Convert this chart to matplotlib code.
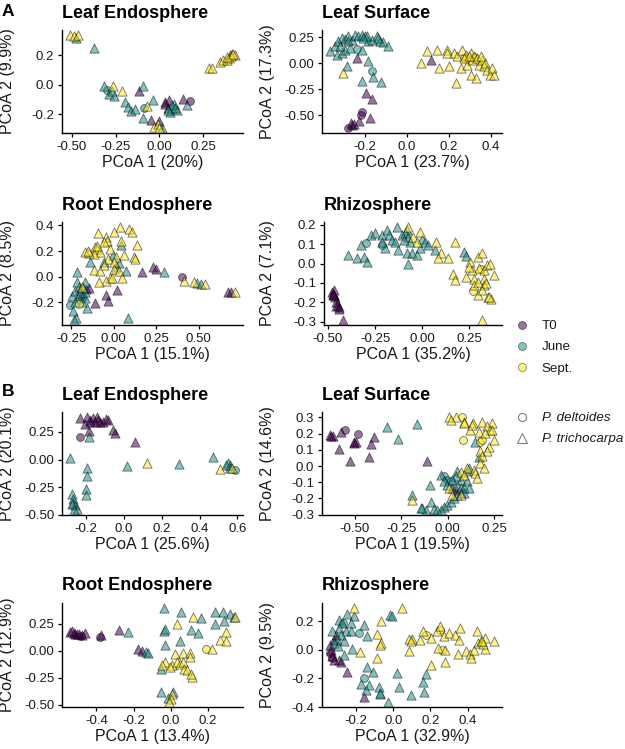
import matplotlib
matplotlib.use("Agg")
import matplotlib.pyplot as plt
from matplotlib.lines import Line2D
from matplotlib.transforms import blended_transform_factory

plt.rcParams['font.family'] = ['Liberation Sans', 'DejaVu Sans']

MONTHS = ["T0", "June", "Sept."]
MONTH_COLORS = ["#440154", "#21908C", "#FDE725"]
SPECIES = ["P. deltoides", "P. trichocarpa"]

# ---------------- Panel A: Leaf Endosphere ----------------
A_LE_T0_circ = [(0.175, -0.111)]
A_LE_T0_tri = [(-0.114, -0.043), (-0.049, -0.242), (0.0, -0.249), (0.032, -0.118), (0.055, -0.102),
               (0.048, -0.156), (0.133, -0.095), (0.030, -0.130)]
A_LE_June_circ = [(-0.297, -0.034), (-0.087, -0.156)]
A_LE_June_tri = [(-0.479, 0.314), (-0.376, 0.249), (-0.314, -0.011), (-0.287, -0.066), (-0.257, -0.075),
                 (-0.272, -0.043), (-0.091, -0.011), (-0.196, -0.118), (-0.177, -0.152), (-0.162, -0.181),
                 (-0.139, -0.163), (-0.038, -0.106), (-0.095, -0.224), (0.015, -0.296), (0.070, -0.156),
                 (0.084, -0.133), (0.103, -0.174), (0.061, -0.186), (0.160, -0.138), (0.075, -0.140),
                 (0.090, -0.160), (0.050, -0.170)]
A_LE_Sept_circ = []
A_LE_Sept_tri = [(-0.51, 0.339), (-0.487, 0.333), (-0.464, 0.337), (-0.266, -0.011), (-0.215, -0.043),
                 (-0.072, -0.143), (-0.030, -0.287), (-0.008, -0.269), (0.0, -0.292), (0.285, 0.113),
                 (0.304, 0.113), (0.346, 0.152), (0.365, 0.170), (0.388, 0.170), (0.403, 0.204),
                 (0.418, 0.210), (0.432, 0.199), (0.399, 0.183), (0.41, 0.195), (0.39, 0.19), (0.42, 0.205)]

# ---------------- Panel A: Leaf Surface ----------------
A_LS_T0_circ = [(-0.214, -0.466), (-0.220, -0.498), (-0.280, -0.627)]
A_LS_T0_tri = [(-0.241, 0.048), (0.113, 0.032), (-0.194, -0.289), (-0.170, -0.347), (-0.178, -0.531),
               (-0.230, -0.553), (-0.268, -0.579), (-0.265, -0.595), (-0.255, -0.590)]
A_LS_June_circ = [(-0.241, 0.135), (-0.170, -0.080)]
A_LS_June_tri = [(-0.367, 0.113), (-0.343, 0.161), (-0.328, 0.209), (-0.312, 0.241), (-0.296, 0.232),
                 (-0.280, 0.257), (-0.265, 0.225), (-0.249, 0.273), (-0.233, 0.257), (-0.217, 0.273),
                 (-0.202, 0.257), (-0.186, 0.209), (-0.170, 0.225), (-0.146, 0.257), (-0.131, 0.209),
                 (-0.115, 0.199), (-0.091, 0.161), (-0.335, 0.080), (-0.312, 0.096), (-0.296, 0.129),
                 (-0.272, 0.145), (-0.217, 0.129), (-0.280, 0.209), (-0.320, 0.161), (-0.186, 0.023),
                 (-0.288, -0.032), (-0.162, -0.129), (-0.214, -0.170), (-0.126, -0.186), (-0.19, 0.26),
                 (-0.21, 0.24), (-0.14, 0.24)]
A_LS_Sept_circ = [(0.27, 0.05), (0.30, 0.03), (0.32, 0.06)]
A_LS_Sept_tri = [(-0.304, -0.096), (0.066, 0.0), (0.094, 0.113), (0.142, 0.122), (0.153, -0.048),
                 (0.189, 0.122), (0.200, -0.032), (0.224, 0.096), (0.239, 0.064), (0.263, 0.129),
                 (0.255, -0.048), (0.279, 0.080), (0.287, -0.016), (0.302, 0.096), (0.310, 0.032),
                 (0.318, 0.064), (0.334, 0.048), (0.342, -0.016), (0.357, 0.032), (0.365, -0.032),
                 (0.373, 0.0), (0.381, -0.064), (0.394, -0.113), (0.405, -0.048), (0.413, -0.113),
                 (0.302, -0.113), (0.326, -0.145), (0.233, -0.193), (0.192, 0.096), (0.271, 0.048),
                 (0.294, 0.064), (0.350, 0.064)]

# ---------------- Panel A: Root Endosphere ----------------
A_RE_T0_circ = [(0.400, -0.005)]
A_RE_T0_tri = [(0.168, 0.038), (0.228, 0.077), (0.248, 0.059), (0.020, -0.103), (-0.044, -0.141),
               (-0.036, -0.192), (-0.109, -0.205), (-0.149, -0.090), (-0.162, -0.095), (0.673, -0.121),
               (0.693, -0.121)]
A_RE_June_circ = [(-0.257, -0.223), (-0.188, -0.167)]
A_RE_June_tri = [(0.044, 0.249), (-0.006, 0.167), (0.069, 0.044), (0.030, 0.103), (0.010, 0.077),
                 (-0.059, 0.115), (-0.139, 0.115), (-0.218, 0.038), (-0.218, -0.038), (-0.248, -0.154),
                 (-0.228, -0.115), (-0.208, -0.077), (-0.198, -0.103), (-0.188, -0.141), (-0.168, -0.167),
                 (-0.158, -0.244), (-0.238, -0.269), (-0.222, -0.321), (-0.234, -0.341), (0.083, -0.321),
                 (-0.168, -0.038), (-0.182, -0.090), (0.297, 0.038), (0.491, -0.051), (0.511, -0.059),
                 (-0.21, -0.17), (-0.19, -0.20), (-0.23, -0.20), (-0.20, -0.13), (-0.17, -0.12)]
A_RE_Sept_circ = [(-0.204, -0.213)]
A_RE_Sept_tri = [(0.036, 0.390), (0.089, 0.372), (0.109, 0.346), (-0.095, 0.341), (0.0, 0.346),
                 (-0.044, 0.308), (-0.040, 0.282), (0.040, 0.282), (0.135, 0.249), (-0.109, 0.231),
                 (-0.099, 0.218), (-0.079, 0.192), (-0.119, 0.179), (-0.149, 0.187), (-0.168, 0.192),
                 (-0.020, 0.218), (0.010, 0.154), (0.059, 0.167), (0.119, 0.154), (0.125, 0.136),
                 (-0.036, 0.136), (0.0, 0.115), (-0.059, 0.090), (-0.119, 0.051), (-0.079, 0.044),
                 (0.0, 0.059), (0.030, 0.044), (-0.020, -0.013), (-0.044, -0.033), (-0.089, -0.038),
                 (-0.010, -0.008), (0.050, -0.013), (-0.188, -0.077), (0.416, -0.031), (0.471, -0.044),
                 (0.539, -0.059), (-0.154, 0.197), (-0.099, 0.238), (-0.055, 0.269), (0.713, -0.121)]

# ---------------- Panel A: Rhizosphere ----------------
A_RH_T0_circ = []
A_RH_T0_tri = [(-0.478, -0.147), (-0.466, -0.138), (-0.471, -0.164), (-0.461, -0.172), (-0.457, -0.198),
               (-0.449, -0.212), (-0.440, -0.233), (-0.457, -0.219), (-0.443, -0.224), (-0.422, -0.293),
               (-0.466, -0.160), (-0.475, -0.155)]
A_RH_June_circ = [(-0.300, 0.107), (-0.216, 0.098)]
A_RH_June_tri = [(-0.396, 0.043), (-0.344, 0.029), (-0.309, 0.034), (-0.291, 0.009), (-0.326, 0.095),
                 (-0.274, 0.147), (-0.248, 0.155), (-0.213, 0.147), (-0.187, 0.172), (-0.178, 0.147),
                 (-0.195, 0.078), (-0.161, 0.121), (-0.134, 0.190), (-0.143, 0.112), (-0.126, 0.069),
                 (-0.108, 0.147), (-0.082, 0.172), (-0.091, 0.155), (-0.073, 0.138), (-0.065, 0.112),
                 (-0.082, 0.052), (-0.056, 0.052), (-0.030, 0.043), (-0.012, 0.078), (-0.003, 0.129),
                 (0.017, 0.112), (0.031, 0.095), (0.066, 0.069), (-0.077, 0.0), (0.223, 0.060),
                 (0.232, 0.040), (-0.099, 0.121), (-0.213, 0.112)]
A_RH_Sept_circ = [(0.267, -0.143), (0.311, -0.026)]
A_RH_Sept_tri = [(-0.077, 0.190), (-0.012, 0.164), (-0.047, 0.138), (-0.030, 0.112), (0.075, 0.112),
                 (0.098, 0.052), (0.084, 0.026), (0.136, 0.026), (0.162, -0.052), (0.175, -0.083),
                 (0.175, 0.109), (0.255, 0.009), (0.262, -0.034), (0.232, -0.069), (0.276, -0.078),
                 (0.297, 0.034), (0.319, 0.052), (0.302, -0.022), (0.328, -0.034), (0.328, -0.078),
                 (0.325, -0.112), (0.346, -0.009), (0.360, -0.005), (0.380, -0.057), (0.293, -0.164),
                 (0.319, -0.138), (0.349, -0.172), (0.363, -0.181), (0.319, -0.293), (0.276, -0.112),
                 (0.250, -0.017), (0.293, -0.095), (0.337, -0.103), (0.354, -0.172)]

# ---------------- Panel B: Leaf Endosphere ----------------
B_LE_T0_circ = [(-0.232, 0.201)]
B_LE_T0_tri = [(-0.232, 0.375), (-0.194, 0.387), (-0.162, 0.375), (-0.144, 0.381), (-0.095, 0.366),
               (-0.206, 0.321), (-0.180, 0.336), (-0.127, 0.336), (-0.109, 0.336), (-0.083, 0.357),
               (-0.056, 0.267), (-0.048, 0.237), (-0.188, 0.261), (0.058, 0.156), (-0.136, 0.357),
               (-0.180, 0.357), (-0.153, 0.336)]
B_LE_June_circ = [(0.586, -0.099)]
B_LE_June_tri = [(-0.188, 0.207), (-0.285, 0.012), (-0.194, -0.075), (-0.194, -0.150), (-0.201, -0.264),
                 (-0.201, -0.318), (-0.276, -0.315), (-0.271, -0.354), (-0.268, -0.393), (-0.259, -0.414),
                 (-0.250, -0.444), (-0.276, -0.399), (-0.264, -0.459), (0.014, -0.063), (0.290, -0.045),
                 (0.472, 0.027), (0.551, -0.033), (0.560, -0.054), (0.563, -0.075), (0.542, -0.054)]
B_LE_Sept_circ = []
B_LE_Sept_tri = [(0.120, -0.033), (0.507, -0.084), (0.569, -0.075)]

# ---------------- Panel B: Leaf Surface ----------------
B_LS_T0_circ = [(-0.553, 0.225), (-0.481, 0.200)]
B_LS_T0_tri = [(-0.632, 0.189), (-0.619, 0.183), (-0.574, 0.211), (-0.583, 0.105), (-0.524, 0.032),
               (-0.494, 0.147), (-0.506, 0.147), (-0.413, 0.137), (-0.395, 0.179), (-0.422, 0.057),
               (-0.113, 0.032), (0.043, -0.147), (0.025, -0.137), (-0.626, 0.183), (-0.503, 0.143)]
B_LS_June_circ = [(-0.020, -0.063), (-0.002, -0.084), (0.016, -0.095)]
B_LS_June_tri = [(-0.327, 0.242), (-0.267, 0.168), (-0.163, 0.259), (0.052, -0.032), (0.070, -0.084),
                 (0.106, -0.032), (0.043, -0.063), (-0.095, -0.120), (-0.038, -0.053), (-0.020, -0.095),
                 (-0.002, -0.116), (0.025, -0.084), (0.052, -0.116), (0.070, -0.137), (0.088, -0.137),
                 (0.106, -0.095), (0.114, -0.137), (-0.190, -0.179), (-0.091, -0.221), (-0.136, -0.259),
                 (-0.118, -0.274), (-0.073, -0.263), (-0.055, -0.274), (-0.038, -0.274), (-0.020, -0.253),
                 (-0.002, -0.242), (0.016, -0.221), (0.034, -0.200), (0.052, -0.179), (0.070, -0.168),
                 (0.088, -0.168), (0.150, 0.147), (0.168, 0.053), (0.114, -0.015), (-0.141, -0.259)]
B_LS_Sept_circ = [(0.079, 0.305), (0.084, 0.162), (0.177, 0.147), (0.186, 0.162)]
B_LS_Sept_tri = [(0.007, 0.305), (0.043, 0.301), (0.091, 0.274), (0.138, 0.263), (0.186, 0.274),
                 (0.240, 0.267), (0.123, 0.225), (0.168, 0.211), (0.213, 0.246), (0.227, 0.225),
                 (0.240, 0.225), (0.249, 0.162), (0.222, 0.120), (0.213, 0.095), (0.177, 0.095),
                 (0.186, 0.063), (0.174, 0.021), (0.141, -0.027), (0.106, -0.011), (0.070, -0.036),
                 (0.007, -0.137), (0.025, -0.179), (-0.190, -0.211), (0.016, 0.284), (0.088, -0.053),
                 (0.150, -0.042), (0.088, 0.263), (0.132, 0.253), (0.204, 0.204), (0.195, -0.015),
                 (0.159, -0.074), (0.070, -0.179)]

# ---------------- Panel B: Root Endosphere ----------------
B_RE_T0_circ = [(-0.484, 0.136), (-0.380, 0.127)]
B_RE_T0_tri = [(-0.541, 0.174), (-0.523, 0.168), (-0.514, 0.158), (-0.505, 0.152), (-0.496, 0.158),
               (-0.479, 0.146), (-0.375, 0.146), (-0.532, 0.184), (-0.461, 0.168), (-0.279, 0.193),
               (-0.179, 0.019), (-0.157, 0.0)]
B_RE_June_circ = []
B_RE_June_tri = [(-0.232, 0.174), (-0.136, -0.006), (-0.125, -0.022), (-0.038, 0.399), (0.052, 0.358),
                 (0.164, 0.304), (0.236, 0.358), (0.280, 0.358), (0.316, 0.342), (0.236, 0.253),
                 (0.286, 0.278), (0.107, 0.190), (0.146, 0.168), (-0.038, 0.184), (-0.032, 0.199),
                 (-0.032, 0.057), (0.048, 0.089), (-0.054, -0.171), (-0.054, -0.380), (0.013, -0.380),
                 (-0.014, -0.434), (0.339, 0.316)]
B_RE_Sept_circ = [(0.191, 0.019)]
B_RE_Sept_tri = [(0.120, 0.316), (0.030, 0.247), (0.021, -0.032), (0.066, -0.022), (0.102, -0.022),
                 (0.102, -0.054), (-0.032, -0.101), (0.004, -0.133), (0.030, -0.101), (0.048, -0.117),
                 (0.066, -0.101), (0.071, -0.165), (0.084, -0.180), (0.111, -0.244), (0.107, -0.212),
                 (-0.050, -0.133), (-0.005, -0.149), (0.298, 0.177), (0.263, 0.104), (0.298, 0.089),
                 (0.343, 0.316), (0.004, -0.402), (0.0, -0.449), (0.218, 0.019), (-0.011, -0.475)]

# ---------------- Panel B: Rhizosphere ----------------
B_RH_T0_circ = [(-0.341, -0.024), (-0.329, -0.059)]
B_RH_T0_tri = [(-0.341, 0.035), (-0.334, 0.0), (-0.329, -0.047), (-0.320, -0.071), (-0.293, -0.071),
               (-0.284, -0.082), (-0.248, -0.153), (-0.158, -0.329), (-0.320, 0.071), (-0.311, 0.106)]
B_RH_June_circ = [(-0.185, 0.118), (-0.158, -0.195), (-0.27, 0.19)]
B_RH_June_tri = [(-0.248, 0.247), (-0.293, 0.205), (-0.275, 0.188), (-0.212, 0.235), (-0.230, 0.188),
                 (-0.293, 0.153), (-0.257, 0.129), (-0.230, 0.129), (-0.284, 0.106), (-0.302, 0.071),
                 (-0.320, 0.047), (-0.266, 0.059), (-0.221, 0.007), (-0.266, -0.035), (-0.298, 0.024),
                 (-0.329, 0.129), (-0.158, 0.176), (-0.144, 0.094), (-0.018, 0.242), (-0.005, 0.235),
                 (-0.140, -0.118), (-0.108, -0.158), (-0.176, -0.242), (-0.131, -0.247), (-0.149, -0.282),
                 (-0.077, -0.259), (-0.072, -0.306), (-0.029, -0.365), (0.022, -0.165), (0.031, -0.259),
                 (0.093, -0.313), (0.174, -0.172), (0.162, -0.224), (0.165, -0.294), (-0.072, -0.30)]
B_RH_Sept_circ = [(0.174, 0.101), (0.251, 0.141), (0.264, 0.0)]
B_RH_Sept_tri = [(-0.212, 0.294), (0.048, 0.294), (-0.068, 0.200), (-0.086, 0.111), (-0.068, 0.047),
                 (-0.072, 0.035), (-0.180, -0.016), (-0.090, -0.059), (0.102, 0.078), (0.084, 0.078),
                 (0.093, 0.064), (0.144, 0.071), (0.162, 0.129), (0.201, 0.082), (0.237, 0.129),
                 (0.251, 0.165), (0.273, 0.094), (0.300, 0.118), (0.330, 0.106), (0.359, 0.153),
                 (0.354, 0.071), (0.241, 0.012), (0.276, 0.0), (0.348, -0.031), (0.390, -0.012),
                 (0.413, -0.031), (0.417, -0.059), (0.434, 0.0), (0.451, 0.134), (0.456, 0.047),
                 (0.474, 0.059), (0.492, 0.082), (0.497, 0.007), (0.542, 0.059), (0.485, 0.040),
                 (0.201, -0.106), (0.276, -0.082), (0.084, -0.012), (0.479, 0.059)]

# ---------------- Panel texts and ticks ----------------
TITLES = ["Leaf Endosphere", "Leaf Surface", "Root Endosphere", "Rhizosphere"] * 2
XLABELS = ["PCoA 1 (20%)", "PCoA 1 (23.7%)", "PCoA 1 (15.1%)", "PCoA 1 (35.2%)",
           "PCoA 1 (25.6%)", "PCoA 1 (19.5%)", "PCoA 1 (13.4%)", "PCoA 1 (32.9%)"]
YLABELS = ["PCoA 2 (9.9%)", "PCoA 2 (17.3%)", "PCoA 2 (8.5%)", "PCoA 2 (7.1%)",
           "PCoA 2 (20.1%)", "PCoA 2 (14.6%)", "PCoA 2 (12.9%)", "PCoA 2 (9.5%)"]
XTICKS = [[-0.5, -0.25, 0.0, 0.25], [-0.2, 0.0, 0.2, 0.4], [-0.25, 0.0, 0.25, 0.5], [-0.5, -0.25, 0.0, 0.25],
          [-0.2, 0.0, 0.2, 0.4, 0.6], [-0.5, -0.25, 0.0, 0.25], [-0.4, -0.2, 0.0, 0.2], [-0.2, 0.0, 0.2, 0.4]]
XTICKLABELS = [["-0.50", "-0.25", "0.00", "0.25"], ["-0.2", "0.0", "0.2", "0.4"],
               ["-0.25", "0.00", "0.25", "0.50"], ["-0.50", "-0.25", "0.00", "0.25"],
               ["-0.2", "0.0", "0.2", "0.4", "0.6"], ["-0.50", "-0.25", "0.00", "0.25"],
               ["-0.4", "-0.2", "0.0", "0.2"], ["-0.2", "0.0", "0.2", "0.4"]]
YTICKS = [[-0.2, 0.0, 0.2], [-0.5, -0.25, 0.0, 0.25], [-0.2, 0.0, 0.2, 0.4],
          [-0.3, -0.2, -0.1, 0.0, 0.1, 0.2],
          [-0.5, -0.25, 0.0, 0.25], [-0.3, -0.2, -0.1, 0.0, 0.1, 0.2, 0.3],
          [-0.5, -0.25, 0.0, 0.25], [-0.4, -0.2, 0.0, 0.2]]
YTICKLABELS = [["-0.2", "0.0", "0.2"], ["-0.50", "-0.25", "0.00", "0.25"], ["-0.2", "0.0", "0.2", "0.4"],
               ["-0.3", "-0.2", "-0.1", "0.0", "0.1", "0.2"],
               ["-0.50", "-0.25", "0.00", "0.25"], ["-0.3", "-0.2", "-0.1", "0.0", "0.1", "0.2", "0.3"],
               ["-0.50", "-0.25", "0.00", "0.25"], ["-0.4", "-0.2", "0.0", "0.2"]]

PANEL_DATA = [
    [(A_LE_T0_circ, A_LE_T0_tri), (A_LE_June_circ, A_LE_June_tri), (A_LE_Sept_circ, A_LE_Sept_tri)],
    [(A_LS_T0_circ, A_LS_T0_tri), (A_LS_June_circ, A_LS_June_tri), (A_LS_Sept_circ, A_LS_Sept_tri)],
    [(A_RE_T0_circ, A_RE_T0_tri), (A_RE_June_circ, A_RE_June_tri), (A_RE_Sept_circ, A_RE_Sept_tri)],
    [(A_RH_T0_circ, A_RH_T0_tri), (A_RH_June_circ, A_RH_June_tri), (A_RH_Sept_circ, A_RH_Sept_tri)],
    [(B_LE_T0_circ, B_LE_T0_tri), (B_LE_June_circ, B_LE_June_tri), (B_LE_Sept_circ, B_LE_Sept_tri)],
    [(B_LS_T0_circ, B_LS_T0_tri), (B_LS_June_circ, B_LS_June_tri), (B_LS_Sept_circ, B_LS_Sept_tri)],
    [(B_RE_T0_circ, B_RE_T0_tri), (B_RE_June_circ, B_RE_June_tri), (B_RE_Sept_circ, B_RE_Sept_tri)],
    [(B_RH_T0_circ, B_RH_T0_tri), (B_RH_June_circ, B_RH_June_tri), (B_RH_Sept_circ, B_RH_Sept_tri)],
]

# ---------------- Layout (pixels) ----------------
W, H = 625, 749
fig = plt.figure(figsize=(W / 100, H / 100), dpi=100)

# left, right, top, bottom in pixels
BOXES = [(62, 243, 30, 133), (322, 502, 30, 133),
         (62, 243, 222, 325), (324, 502, 222, 325),
         (62, 243, 412, 515), (322, 502, 412, 515),
         (62, 243, 603, 707), (322, 502, 603, 707)]

TXT = "#1a1a1a"
ALPHA = 0.55
S_TRI = 44
S_CIRC = 32

for i, (l, r, t, b) in enumerate(BOXES):
    ax = fig.add_axes([l / W, 1 - b / H, (r - l) / W, (b - t) / H])
    for (circ, tri), col in zip(PANEL_DATA[i], MONTH_COLORS):
        if circ:
            ax.scatter([p[0] for p in circ], [p[1] for p in circ], s=S_CIRC, marker='o',
                       facecolor=col, edgecolor='black', linewidths=0.6, alpha=ALPHA, zorder=3)
        if tri:
            ax.scatter([p[0] for p in tri], [p[1] for p in tri], s=S_TRI, marker='^',
                       facecolor=col, edgecolor='black', linewidths=0.6, alpha=ALPHA, zorder=3)
    ax.margins(0.05)
    for side in ['top', 'right']:
        ax.spines[side].set_visible(False)
    for side in ['left', 'bottom']:
        ax.spines[side].set_linewidth(1.0)
        ax.spines[side].set_color('black')
    ax.set_xticks(XTICKS[i])
    ax.set_xticklabels(XTICKLABELS[i])
    ax.set_yticks(YTICKS[i])
    ax.set_yticklabels(YTICKLABELS[i])
    ax.tick_params(axis='both', direction='out', length=3, width=0.9, color='black',
                   labelsize=9.5, labelcolor=TXT, pad=2.5)
    ax.set_title(TITLES[i], loc='left', fontsize=13, fontweight='bold', color='black', pad=9)
    ax.set_xlabel(XLABELS[i], fontsize=11.5, color=TXT, labelpad=2)
    ax.set_ylabel(YLABELS[i], fontsize=11.5, color=TXT)
    xfig = 15 / W if l < 200 else 275 / W
    ax.yaxis.set_label_coords(xfig, 0.5, transform=blended_transform_factory(fig.transFigure, ax.transAxes))

fig.text(2 / W, 1 - 12 / H, "A", fontsize=12.5, fontweight='bold', va='center', ha='left')
fig.text(2 / W, 1 - 392 / H, "B", fontsize=12.5, fontweight='bold', va='center', ha='left')

# Legends
month_handles = [Line2D([], [], linestyle='none', marker='o', markersize=5.8, markerfacecolor=c,
                        markeredgecolor='black', markeredgewidth=0.5, alpha=ALPHA) for c in MONTH_COLORS]
leg1 = fig.legend(month_handles, MONTHS, loc='upper left', bbox_to_anchor=(515 / W, 1 - 320 / H),
                  frameon=False, fontsize=9.6, handlelength=1.0, handletextpad=1.0, labelspacing=0.66,
                  borderpad=0, borderaxespad=0)
for t in leg1.get_texts():
    t.set_color(TXT)
species_handles = [Line2D([], [], linestyle='none', marker=m, markersize=ms, markerfacecolor='white',
                          markeredgecolor='#7f7f7f', markeredgewidth=0.8)
                   for m, ms in zip(['o', '^'], [5.8, 7.0])]
leg2 = fig.legend(species_handles, SPECIES, loc='upper left', bbox_to_anchor=(515 / W, 1 - 412 / H),
                  frameon=False, handlelength=1.0, handletextpad=1.0, labelspacing=0.66,
                  borderpad=0, borderaxespad=0, prop={'style': 'italic', 'size': 9.6})
for t in leg2.get_texts():
    t.set_color(TXT)

fig.savefig("out.png", dpi=100)
